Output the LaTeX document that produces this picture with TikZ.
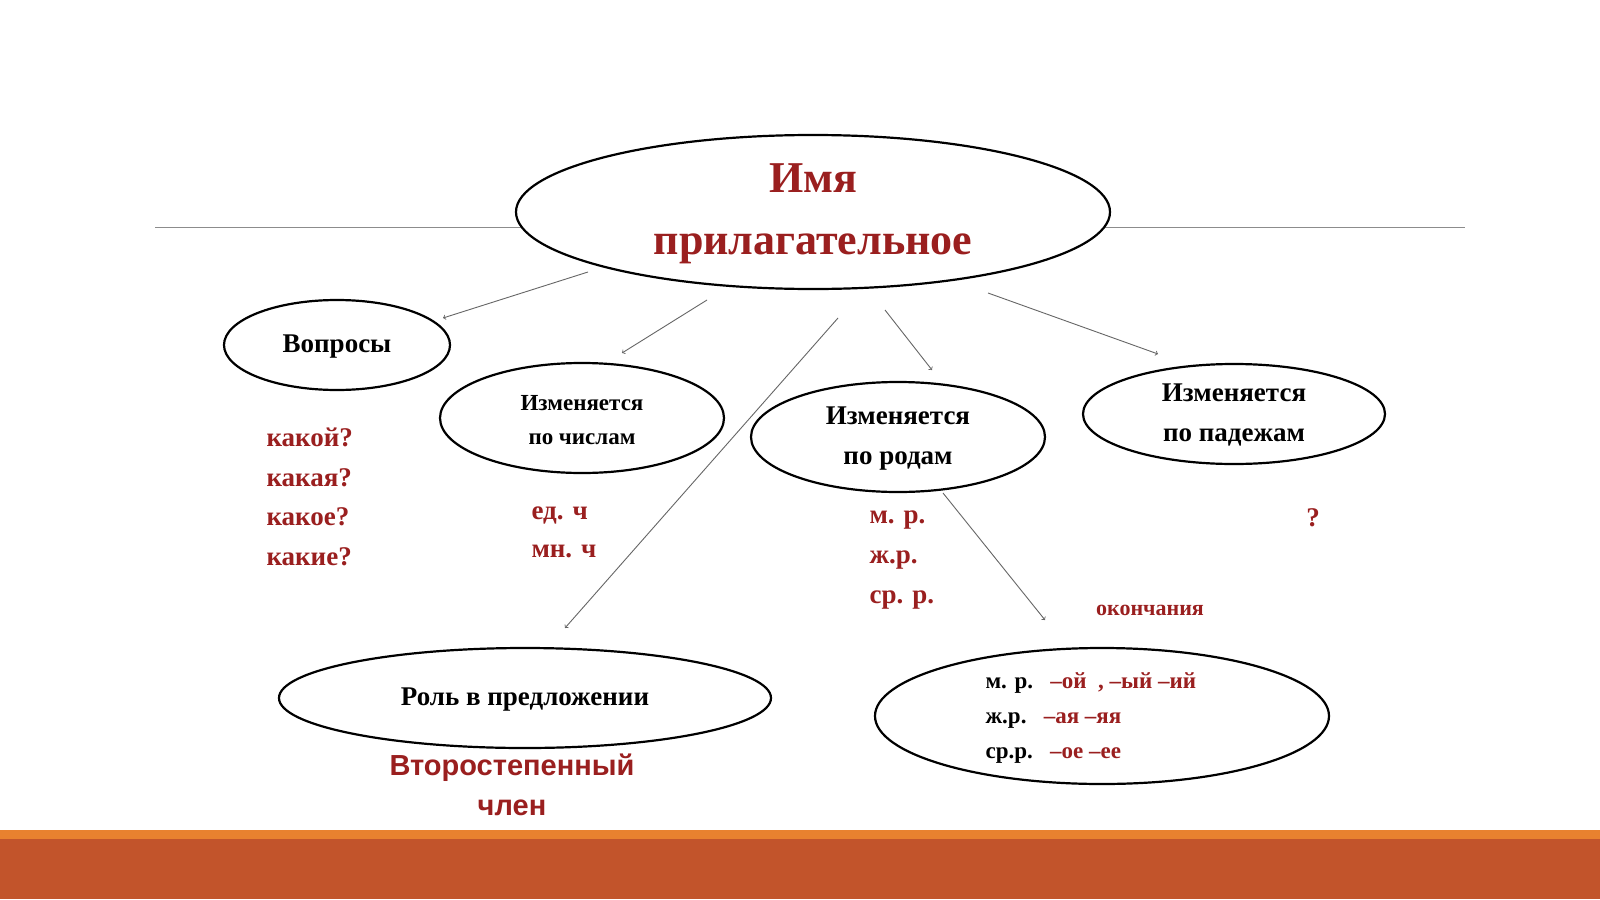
\documentclass[tikz,border=0pt]{standalone}
\usepackage{fontspec}
\setmainfont{Liberation Serif}
\newfontfamily\sansf{Liberation Sans}
\begin{document}
\begin{tikzpicture}[x=1pt,y=-1pt,
  ell/.style={draw=black,line width=2.2pt},
  arr/.style={draw=black!60,line width=0.9pt,-to},
  red/.style={text=dr,font=\bfseries\fontsize{27}{38}\selectfont,align=left,anchor=west},
  blk/.style={font=\bfseries\fontsize{27}{34}\selectfont,align=center}]
\definecolor{dr}{HTML}{9A1F1F}
\definecolor{bar}{HTML}{C2542B}
\definecolor{barl}{HTML}{E8812F}
\useasboundingbox (0,0) rectangle (1600,899);
\fill[white] (0,0) rectangle (1600,899);
\fill[barl] (0,830) rectangle (1600,839);
\fill[bar] (0,839) rectangle (1600,899);
\draw[black!45,line width=0.6pt] (155,227) -- (1465,227);
\draw[ell,fill=white] (813,212) ellipse [x radius=297,y radius=77];
\node[text=dr,font=\bfseries\fontsize{44}{62}\selectfont,align=center] (main) at (813,214) {Имя\\прилагательное};
\draw[ell] (337,345) ellipse [x radius=113,y radius=45];
\node[blk] (vop) at (337,347) {Вопросы};
\draw[ell] (582,418) ellipse [x radius=142,y radius=55];
\node[font=\bfseries\fontsize{23}{34}\selectfont,align=center] (chis) at (582,420) {Изменяется\\по числам};
\draw[ell] (898,437) ellipse [x radius=147,y radius=55];
\node[blk,font=\bfseries\fontsize{27}{40}\selectfont] (rod) at (898,439) {Изменяется\\по родам};
\draw[ell] (1234,414) ellipse [x radius=151,y radius=50];
\node[blk,font=\bfseries\fontsize{27}{40}\selectfont] (pad) at (1234,415) {Изменяется\\по падежам};
\draw[ell] (525,698) ellipse [x radius=246,y radius=50];
\node[blk] (rol) at (525,700) {Роль в предложении};
\draw[ell] (1102,716) ellipse [x radius=227,y radius=68];
\node[font=\bfseries\fontsize{23}{35}\selectfont,align=left,anchor=west] (end) at (982,718)
 {м. р.\ \ \ \textcolor{dr}{–ой\ \ , –ый –ий}\\ж.р.\ \ \ \textcolor{dr}{–ая –яя}\\ср.р.\ \ \ \textcolor{dr}{–ое –ее}};
\node[red,font=\bfseries\fontsize{27}{39.5}\selectfont] (q) at (263,497) {какой?\\какая?\\какое?\\какие?};
\node[red] (ch) at (528,532) {ед. ч\\мн. ч};
\node[red,font=\bfseries\fontsize{27}{40}\selectfont] (rr) at (866,560) {м. р.\\ж.р.\\ср. р.};
\node[text=dr,font=\bfseries\fontsize{27}{32}\selectfont] (qq) at (1313,518) {?};
\node[text=dr,font=\bfseries\fontsize{22}{28}\selectfont] (ok) at (1150,610) {окончания};
\node[text=dr,font=\sansf\bfseries\fontsize{29}{40}\selectfont,align=center] (vt) at (512,785) {Второстепенный\\член};
\coordinate (a1) at (588,272); \coordinate (b1) at (443,318);
\coordinate (a2) at (707,300); \coordinate (b2) at (622,353);
\coordinate (a3) at (838,318); \coordinate (b3) at (565,628);
\coordinate (a4) at (885,310); \coordinate (b4) at (932,370);
\coordinate (a5) at (988,293); \coordinate (b5) at (1158,354);
\coordinate (a6) at (943,493); \coordinate (b6) at (1045,620);
\draw[arr] (a1)--(b1); \draw[arr] (a2)--(b2); \draw[arr] (a3)--(b3);
\draw[arr] (a4)--(b4); \draw[arr] (a5)--(b5); \draw[arr] (a6)--(b6);
\end{tikzpicture}
\end{document}
